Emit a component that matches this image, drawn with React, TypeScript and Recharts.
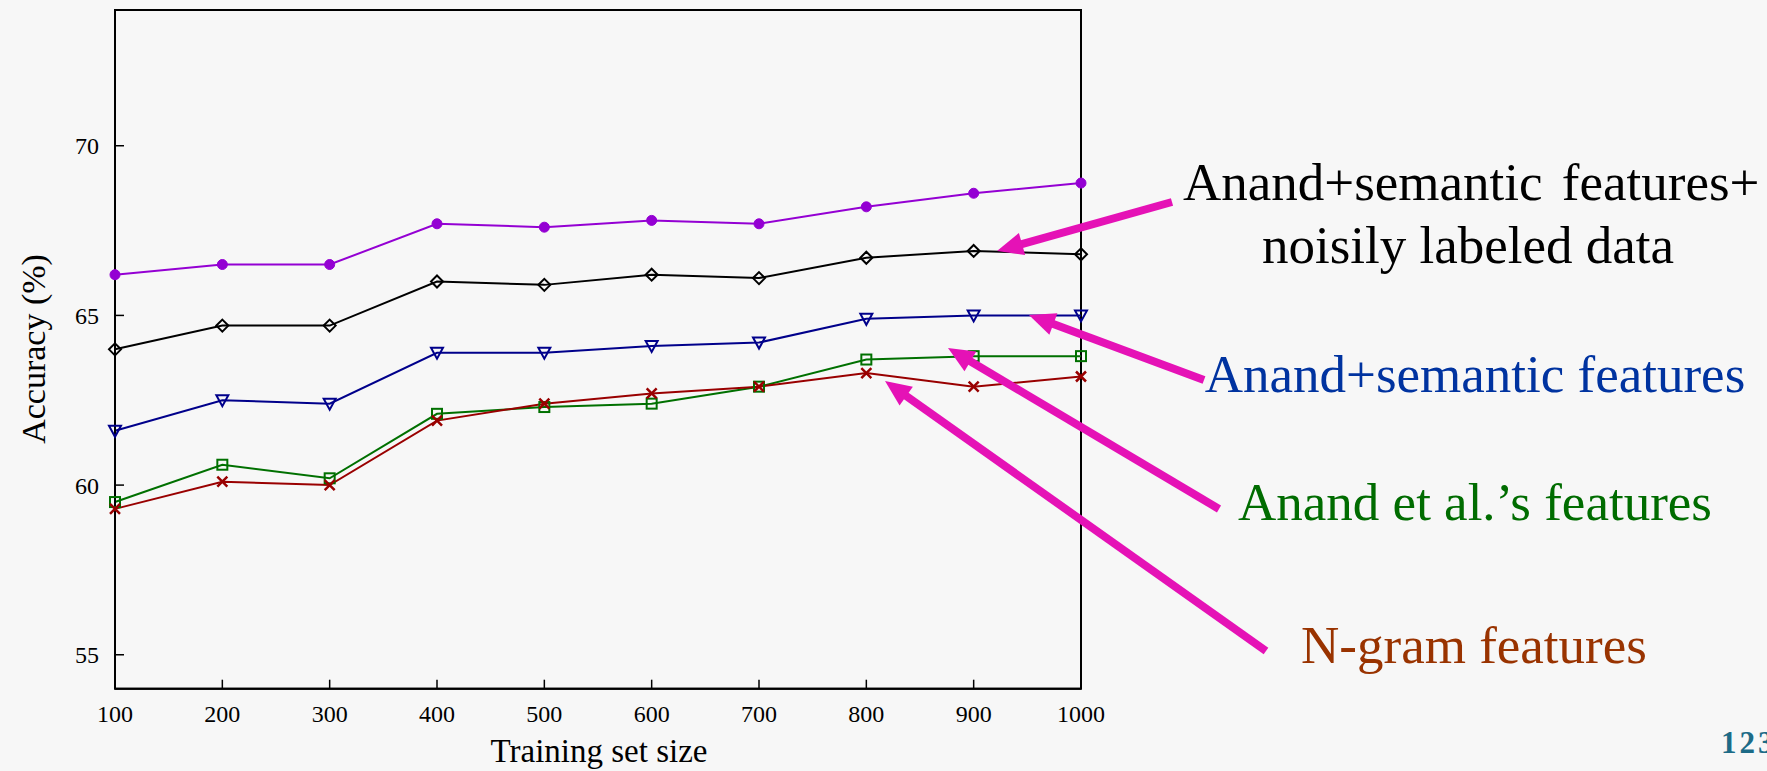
import React from 'react';
import { LineChart, Line, XAxis, YAxis, ReferenceArea } from 'recharts';

const trainingSizes = [100, 200, 300, 400, 500, 600, 700, 800, 900, 1000];
const topFeatures = [66.2, 66.5, 66.5, 67.7, 67.6, 67.8, 67.7, 68.2, 68.6, 68.9];
const semanticNoisy = [64.0, 64.7, 64.7, 66.0, 65.9, 66.2, 66.1, 66.7, 66.9, 66.8];
const semanticFeatures = [61.6, 62.5, 62.4, 63.9, 63.9, 64.1, 64.2, 64.9, 65.0, 65.0];
const anandFeatures = [59.5, 60.6, 60.2, 62.1, 62.3, 62.4, 62.9, 63.7, 63.8, 63.8];
const ngramFeatures = [59.3, 60.1, 60.0, 61.9, 62.4, 62.7, 62.9, 63.3, 62.9, 63.2];

const xTicks = [100, 200, 300, 400, 500, 600, 700, 800, 900, 1000];
const yTicks = [55, 60, 65, 70];

const data = trainingSizes.map((x, i) => ({
  x,
  top: topFeatures[i],
  noisy: semanticNoisy[i],
  semantic: semanticFeatures[i],
  anand: anandFeatures[i],
  ngram: ngramFeatures[i],
}));

const SERIF = "'Liberation Serif', 'Times New Roman', Times, serif";
const BG = '#F7F7F7';
const MAGENTA = '#E512B6';

const C_PURPLE = '#9400D3';
const C_BLACK = '#000000';
const C_BLUE = '#00008B';
const C_GREEN = '#007000';
const C_RED = '#990000';

const circleDot = (color: string) => (p: any) => {
  const { cx, cy, index } = p;
  if (cx == null || cy == null) return <g key={`c${index}`} />;
  return <circle key={`c${index}`} cx={cx} cy={cy} r={5} fill={color} stroke={color} strokeWidth={1} />;
};
const diamondDot = (color: string) => (p: any) => {
  const { cx, cy, index } = p;
  if (cx == null || cy == null) return <g key={`d${index}`} />;
  const s = 6;
  return (
    <path key={`d${index}`} d={`M${cx},${cy - s} L${cx + s},${cy} L${cx},${cy + s} L${cx - s},${cy} Z`}
      fill="none" stroke={color} strokeWidth={2} />
  );
};
const triangleDot = (color: string) => (p: any) => {
  const { cx, cy, index } = p;
  if (cx == null || cy == null) return <g key={`t${index}`} />;
  return (
    <path key={`t${index}`} d={`M${cx - 6},${cy - 5} L${cx + 6},${cy - 5} L${cx},${cy + 6} Z`}
      fill="none" stroke={color} strokeWidth={2} />
  );
};
const squareDot = (color: string) => (p: any) => {
  const { cx, cy, index } = p;
  if (cx == null || cy == null) return <g key={`s${index}`} />;
  return <rect key={`s${index}`} x={cx - 5} y={cy - 5} width={10} height={10} fill="none" stroke={color} strokeWidth={2} />;
};
const crossDot = (color: string) => (p: any) => {
  const { cx, cy, index } = p;
  if (cx == null || cy == null) return <g key={`x${index}`} />;
  const s = 5;
  return (
    <path key={`x${index}`} d={`M${cx - s},${cy - s} L${cx + s},${cy + s} M${cx - s},${cy + s} L${cx + s},${cy - s}`}
      fill="none" stroke={color} strokeWidth={2.5} />
  );
};

function Arrow({ x1, y1, x2, y2 }: { x1: number; y1: number; x2: number; y2: number }) {
  const dx = x2 - x1;
  const dy = y2 - y1;
  const len = Math.sqrt(dx * dx + dy * dy);
  const ux = dx / len;
  const uy = dy / len;
  const headLen = 26;
  const headW = 11.5;
  const bx = x2 - ux * headLen;
  const by = y2 - uy * headLen;
  const px = -uy;
  const py = ux;
  return (
    <g>
      <line x1={x1} y1={y1} x2={bx + ux * 3} y2={by + uy * 3} stroke={MAGENTA} strokeWidth={8} />
      <polygon
        points={`${x2},${y2} ${bx + px * headW},${by + py * headW} ${bx - px * headW},${by - py * headW}`}
        fill={MAGENTA}
      />
    </g>
  );
}

export default function App() {
  return (
    <div style={{ position: 'absolute', left: 0, top: 0, width: 1767, height: 771, background: BG, overflow: 'hidden' }}>
      <LineChart
        width={1767}
        height={771}
        data={data}
        margin={{ top: 10, right: 686, left: 55, bottom: 42.3 }}
      >
        <ReferenceArea x1={100} x2={1000} y1={54} y2={74} fill="none" stroke="#000" strokeWidth={2} />
        <XAxis
          dataKey="x"
          type="number"
          domain={[100, 1000]}
          ticks={xTicks}
          height={40}
          tickSize={-9}
          tickMargin={25}
          axisLine={{ stroke: '#000', strokeWidth: 2 }}
          tickLine={{ stroke: '#000', strokeWidth: 1.5 }}
          tick={{ fill: '#000', fontSize: 24, fontFamily: SERIF }}
          interval={0}
        />
        <YAxis
          type="number"
          domain={[54, 74]}
          ticks={yTicks}
          width={60}
          tickSize={-9}
          tickMargin={25}
          axisLine={{ stroke: '#000', strokeWidth: 2 }}
          tickLine={{ stroke: '#000', strokeWidth: 1.5 }}
          tick={{ fill: '#000', fontSize: 24, fontFamily: SERIF }}
          interval={0}
          allowDataOverflow
        />
        <Line dataKey="top" stroke={C_PURPLE} strokeWidth={2} dot={circleDot(C_PURPLE)} isAnimationActive={false} />
        <Line dataKey="noisy" stroke={C_BLACK} strokeWidth={2} dot={diamondDot(C_BLACK)} isAnimationActive={false} />
        <Line dataKey="semantic" stroke={C_BLUE} strokeWidth={2} dot={triangleDot(C_BLUE)} isAnimationActive={false} />
        <Line dataKey="anand" stroke={C_GREEN} strokeWidth={2} dot={squareDot(C_GREEN)} isAnimationActive={false} />
        <Line dataKey="ngram" stroke={C_RED} strokeWidth={2} dot={crossDot(C_RED)} isAnimationActive={false} />
      </LineChart>
      <svg
        width={1767}
        height={771}
        style={{ position: 'absolute', left: 0, top: 0, pointerEvents: 'none' }}
      >
        <text x={599} y={762} textAnchor="middle" fontFamily={SERIF} fontSize={33} fill="#000">
          Training set size
        </text>
        <text
          x={45}
          y={349}
          textAnchor="middle"
          fontFamily={SERIF}
          fontSize={34}
          fill="#000"
          transform="rotate(-90 45 349)"
        >
          Accuracy (%)
        </text>

        <Arrow x1={1172} y1={202} x2={997} y2={251} />
        <Arrow x1={1204} y1={380} x2={1029} y2={315} />
        <Arrow x1={1219} y1={509} x2={948} y2={348} />
        <Arrow x1={1266} y1={651} x2={885} y2={381} />

        <text x={1183} y={200} textAnchor="start" fontFamily={SERIF} fontSize={53} fill="#000" wordSpacing={6}>
          Anand+semantic features+
        </text>
        <text x={1468} y={263} textAnchor="middle" fontFamily={SERIF} fontSize={53} fill="#000">
          noisily labeled data
        </text>
        <text x={1475} y={392} textAnchor="middle" fontFamily={SERIF} fontSize={53} fill="#0033A0">
          Anand+semantic features
        </text>
        <text x={1475} y={520} textAnchor="middle" fontFamily={SERIF} fontSize={53} fill="#006C00">
          Anand et al.’s features
        </text>
        <text x={1474} y={663} textAnchor="middle" fontFamily={SERIF} fontSize={53} fill="#993300">
          N-gram features
        </text>
        <text x={1721} y={753} textAnchor="start" fontFamily={SERIF} fontSize={31} fontWeight="bold" fill="#1D6B87" letterSpacing={3}>
          123
        </text>
      </svg>
    </div>
  );
}
